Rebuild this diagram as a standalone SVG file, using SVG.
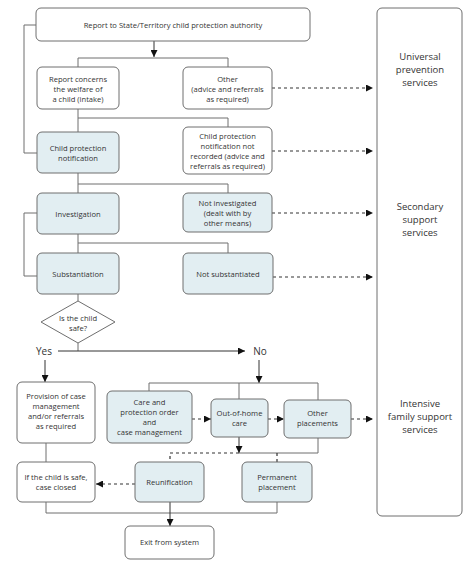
<svg xmlns="http://www.w3.org/2000/svg" width="474" height="567" viewBox="0 0 474 567">
<defs>
<marker id="ah" viewBox="0 0 10 10" refX="10" refY="5" markerWidth="7" markerHeight="7" markerUnits="userSpaceOnUse" orient="auto"><path d="M0,0 L10,5 L0,10 z" fill="#111"/></marker>
<style>
.b{fill:#fff;stroke:#6e6e6e;stroke-width:1}
.f{fill:#e2eef2;stroke:#6e6e6e;stroke-width:1}
.c{fill:none;stroke:#6e6e6e;stroke-width:1}
.a{fill:none;stroke:#333;stroke-width:1;marker-end:url(#ah)}
.d{fill:none;stroke:#333;stroke-width:1.2;stroke-dasharray:3,3}
.da{fill:none;stroke:#333;stroke-width:1.2;stroke-dasharray:3,3;marker-end:url(#ah)}
text{font-family:"Open Sans","DejaVu Sans",sans-serif;font-size:7.6px;fill:#333;text-anchor:middle}
.t{font-size:9.5px}
.l{font-size:10px}
</style>
</defs>
<rect width="474" height="567" fill="#fff"/>
<g id="connectors">
<path class="c" d="M36,25 H24 V153 H37"/>
<path class="a" d="M154,41 V57"/>
<path class="c" d="M78,67 V58 H228 V67"/>
<path class="c" d="M78,109 V132 M78,118 H228 V127"/>
<path class="c" d="M78,173 V193 M78,184 H228 V193"/>
<path class="c" d="M37,213 H24 V276 H37"/>
<path class="c" d="M78,234 V253 M78,243 H228 V253"/>
<path class="c" d="M78,294 V301 M78,343 V351"/>
<path class="a" d="M58,351 H245"/>
<path class="a" d="M45,360 V382"/>
<path class="a" d="M259,360 V383"/>
<path class="c" d="M149,391 V383 H318 V400 M239,383 V399"/>
<path class="a" d="M239,437 V453"/>
<path class="c" d="M318,438 V453 H239"/>
<path class="d" d="M239,453 H170 V462 M277,453 V462"/>
<path class="c" d="M46,443 V462"/>
<path class="c" d="M46,502 V513 H277 V502"/>
<path class="a" d="M170,502 V526"/>
<path class="da" d="M272,88 H373"/>
<path class="da" d="M272,151 H373"/>
<path class="da" d="M272,213 H373"/>
<path class="da" d="M273,277 H373"/>
<path class="da" d="M192,419 H211"/>
<path class="da" d="M268,419 H284"/>
<path class="da" d="M351,419 H373"/>
<path class="da" d="M135,484 H96"/>
</g>
<g id="n-report"><rect class="b" x="36" y="8" width="274" height="33" rx="5"/><text x="173" y="28">Report to State/Territory child protection authority</text></g>
<g id="n-services"><rect class="b" x="377" y="8" width="85" height="508" rx="5"/>
<text class="t" x="420" y="60">Universal</text><text class="t" x="420" y="73">prevention</text><text class="t" x="420" y="86">services</text>
<text class="t" x="420" y="210">Secondary</text><text class="t" x="420" y="223">support</text><text class="t" x="420" y="236">services</text>
<text class="t" x="420" y="407">Intensive</text><text class="t" x="420" y="420">family support</text><text class="t" x="420" y="433">services</text></g>
<g id="n-intake"><rect class="b" x="37" y="67" width="82" height="42" rx="5"/><text x="78" y="82">Report concerns</text><text x="78" y="92">the welfare of</text><text x="78" y="102">a child (intake)</text></g>
<g id="n-other"><rect class="b" x="183" y="67" width="89" height="42" rx="5"/><text x="227.5" y="82">Other</text><text x="227.5" y="92">(advice and referrals</text><text x="227.5" y="102">as required)</text></g>
<g id="n-cpn"><rect class="f" x="37" y="132" width="82" height="41" rx="5"/><text x="78" y="151">Child protection</text><text x="78" y="161">notification</text></g>
<g id="n-notrec"><rect class="b" x="183" y="127" width="89" height="47" rx="5"/><text x="227.5" y="139">Child protection</text><text x="227.5" y="149">notification not</text><text x="227.5" y="159">recorded (advice and</text><text x="227.5" y="169">referrals as required)</text></g>
<g id="n-invest"><rect class="f" x="37" y="193" width="82" height="41" rx="5"/><text x="78" y="217">Investigation</text></g>
<g id="n-notinv"><rect class="f" x="183" y="193" width="89" height="39" rx="5"/><text x="227.5" y="206">Not investigated</text><text x="227.5" y="216">(dealt with by</text><text x="227.5" y="226">other means)</text></g>
<g id="n-subst"><rect class="f" x="37" y="253" width="82" height="41" rx="5"/><text x="78" y="277">Substantiation</text></g>
<g id="n-notsub"><rect class="f" x="183" y="253" width="90" height="41" rx="5"/><text x="228" y="277">Not substantiated</text></g>
<g id="n-safe"><path class="b" d="M78,301 L115,322 L78,343 L41,322 Z"/><text x="78" y="321">Is the child</text><text x="78" y="331">safe?</text></g>
<g id="n-yes"><text class="l" x="44" y="355">Yes</text></g>
<g id="n-no"><text class="l" x="260" y="355">No</text></g>
<g id="n-provision"><rect class="b" x="17" y="382" width="78" height="61" rx="5"/><text x="56" y="399">Provision of case</text><text x="56" y="409">management</text><text x="56" y="419">and/or referrals</text><text x="56" y="429">as required</text></g>
<g id="n-care"><rect class="f" x="107" y="391" width="85" height="52" rx="5"/><text x="149.5" y="405">Care and</text><text x="149.5" y="415">protection order</text><text x="149.5" y="425">and</text><text x="149.5" y="435">case management</text></g>
<g id="n-ooh"><rect class="f" x="211" y="399" width="57" height="38" rx="5"/><text x="239.5" y="416">Out-of-home</text><text x="239.5" y="426">care</text></g>
<g id="n-otherpl"><rect class="f" x="284" y="400" width="67" height="38" rx="5"/><text x="317.5" y="416">Other</text><text x="317.5" y="426">placements</text></g>
<g id="n-closed"><rect class="b" x="17" y="462" width="78" height="40" rx="5"/><text x="56" y="480">If the child is safe,</text><text x="56" y="490">case closed</text></g>
<g id="n-reunif"><rect class="f" x="135" y="462" width="69" height="40" rx="5"/><text x="169.5" y="485">Reunification</text></g>
<g id="n-perm"><rect class="f" x="242" y="462" width="70" height="40" rx="5"/><text x="277" y="480">Permanent</text><text x="277" y="490">placement</text></g>
<g id="n-exit"><rect class="b" x="125" y="526" width="89" height="33" rx="5"/><text x="169.5" y="545">Exit from system</text></g>
</svg>
